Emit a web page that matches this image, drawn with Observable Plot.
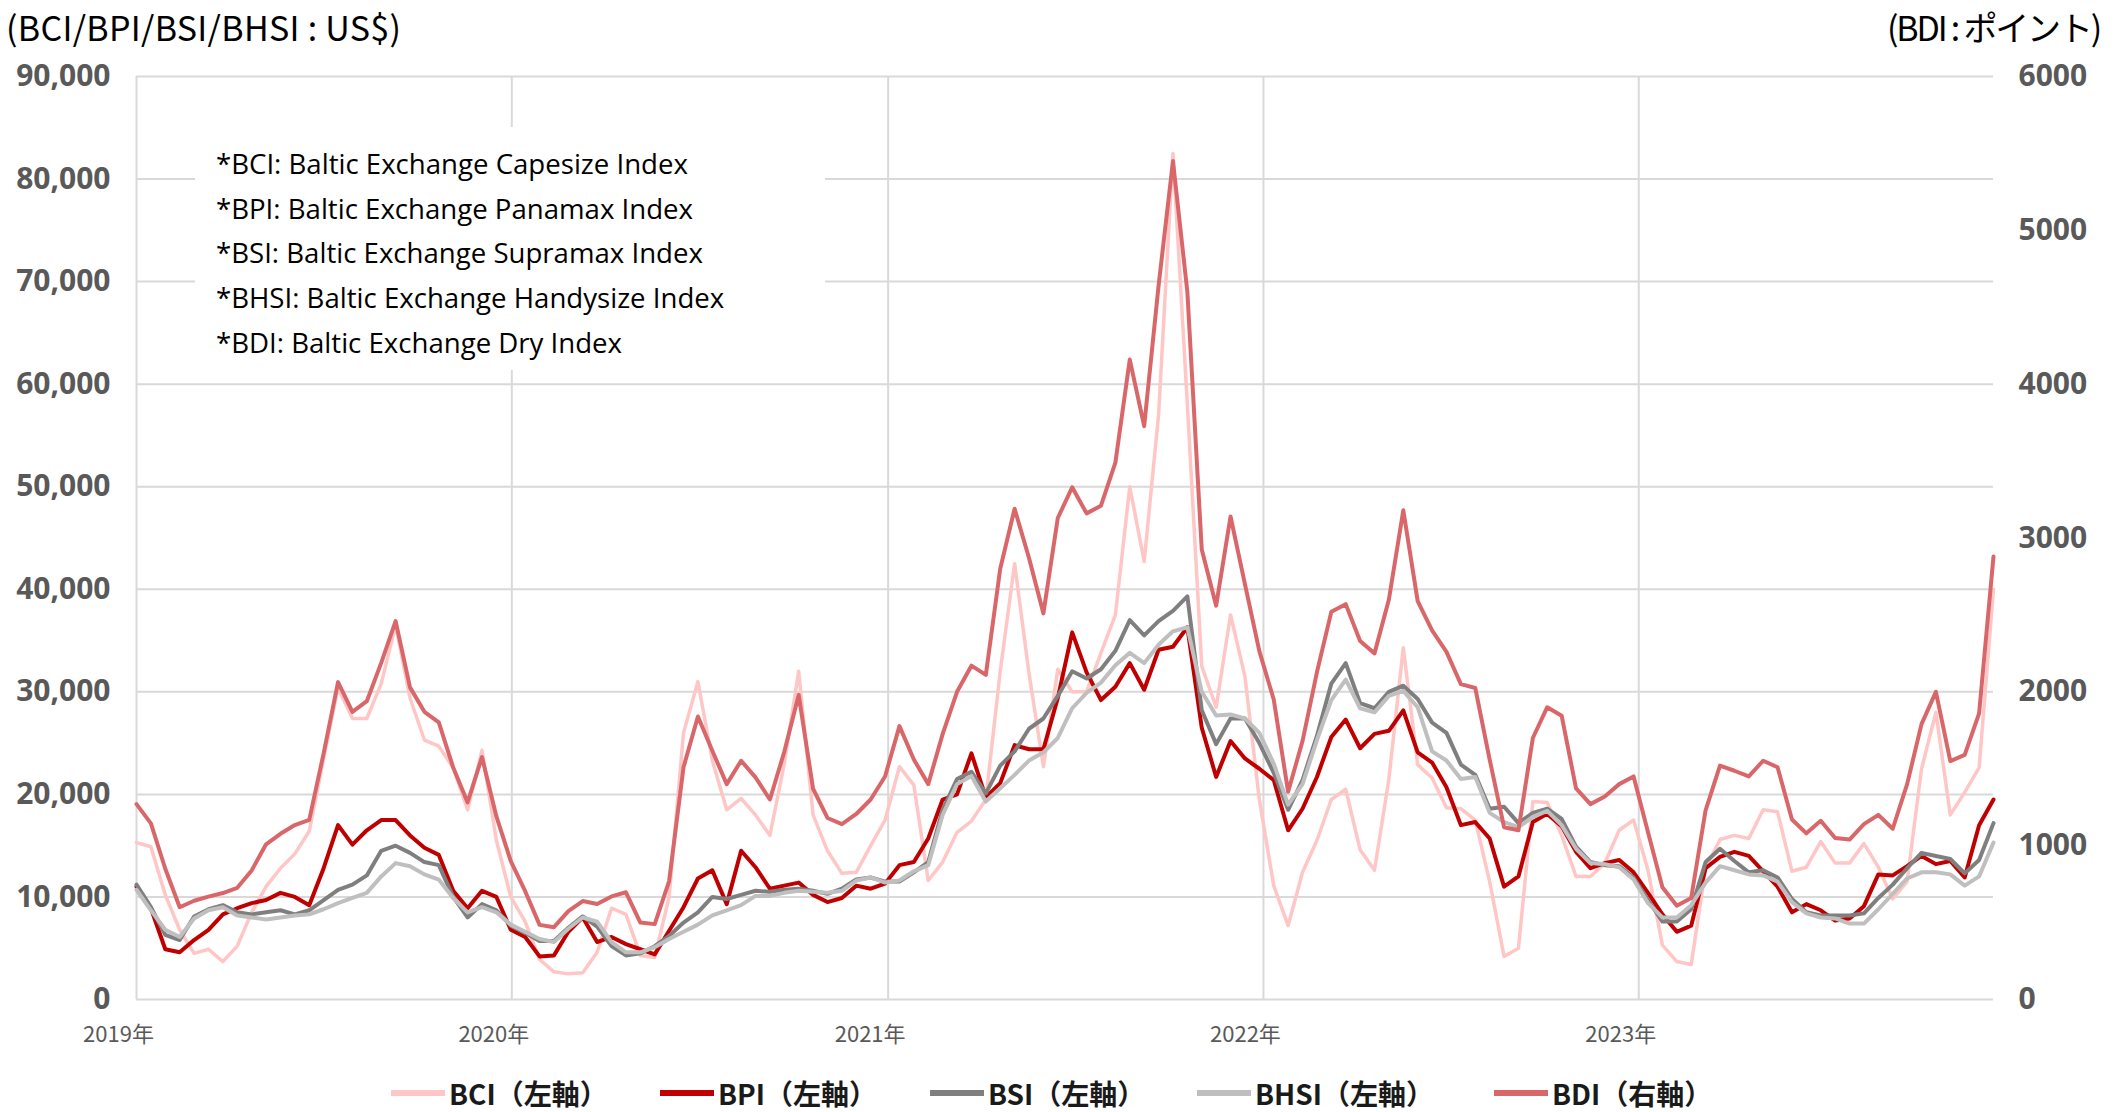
<!DOCTYPE html>
<html>
<head>
<meta charset="utf-8">
<script src="https://cdn.jsdelivr.net/npm/d3@7"></script>
<script src="https://cdn.jsdelivr.net/npm/@observablehq/plot@0.6"></script>
<style>
html, body { margin: 0; padding: 0; background: #fff; }
#wrap { position: relative; width: 2114px; height: 1112px; background: #fff; }
#chart { position: absolute; left: 0; top: 0; }
.title { position: absolute; top: 6px; font-family: "Noto Sans CJK JP", sans-serif; font-size: 34px; color: #000; white-space: nowrap; line-height: 42px; }
#tl { letter-spacing: 0.3px; }
#tr { letter-spacing: -2.2px; }
#note { position: absolute; left: 195px; top: 127px; width: 630px; height: 243px; background: #fff; }
#note div { position: absolute; left: 21px; font-family: "Open Sans", sans-serif; font-size: 27.6px; color: #000; white-space: nowrap; line-height: 34px; }
#legend { position: absolute; left: 0; top: 1074px; width: 2114px; height: 38px; }
#legend .item { position: absolute; top: 0; height: 38px; display: flex; align-items: center; gap: 4px; }
#legend .sw { display: inline-block; width: 54px; height: 6px; }
#legend .lt { font-family: "Noto Sans CJK JP", sans-serif; font-weight: 700; font-size: 28px; color: #1a1a1a; line-height: 38px; white-space: nowrap; padding-right: 2px; }
</style>
</head>
<body>
<div id="wrap">
  <div id="chart"></div>
  <div class="title" id="tl"></div>
  <div class="title" id="tr"></div>
  <div id="note"></div>
  <div id="legend"></div>
</div>
<script>
// ---- data (biweekly readings, first reading 2019-01-01, 14 days apart) ----
const startDate = new Date(Date.UTC(2019, 0, 1));
const stepDays = 14;

// BCI / BPI / BSI / BHSI : thousand US$ per day (left axis)
const bci = [
  15.3, 14.9, 10.2, 6.8, 4.5, 4.9, 3.7, 5.2, 8.5, 11.0, 12.8, 14.2, 16.4, 23.5, 30.4, 27.4, 27.4, 30.8, 36.5, 29.4, 25.3, 24.7, 22.6, 18.5, 24.3, 15.5,
  10.0,
  7.6, 3.9, 2.7, 2.5, 2.6, 4.6, 8.9, 8.3, 4.3, 4.1, 10.0, 26.0, 31.0, 23.3, 18.5, 19.6, 18.0, 16.0, 23.0, 32.0, 18.0, 14.5, 12.3, 12.4, 15.0,
  17.5,
  22.7, 20.9, 11.6, 13.4, 16.3, 17.4, 19.5, 32.0, 42.5, 31.8, 22.7, 32.2, 30.0, 30.0, 33.8, 37.5, 50.0, 42.7, 57.0, 82.5, 58.0, 32.5, 28.5, 37.5, 31.5,
  19.5,
  11.1, 7.2, 12.4, 15.5, 19.5, 20.5, 14.6, 12.6, 21.5, 34.3, 22.9, 21.6, 18.7, 18.6, 17.5, 11.5, 4.2, 5.0, 19.3, 19.2, 16.0, 12.0, 12.0, 13.3, 16.5,
  17.5,
  12.6, 5.3, 3.7, 3.4, 12.8, 15.6, 16.0, 15.7, 18.5, 18.3, 12.5, 12.9, 15.4, 13.3, 13.3, 15.2, 12.9, 9.8, 11.5, 22.5, 28.0, 18.0, 20.2, 22.6, 40.0
];
const bpi = [
  11.0, 8.9, 4.9, 4.6, 5.8, 6.8, 8.3, 8.9, 9.4, 9.7, 10.4, 10.0, 9.2, 12.8, 17.0, 15.1, 16.5, 17.5, 17.5, 16.0, 14.8, 14.1, 10.6, 8.9, 10.6, 10.0,
  6.8,
  6.1, 4.2, 4.3, 6.6, 8.0, 5.6, 6.1, 5.4, 4.9, 4.4, 6.7, 9.0, 11.8, 12.6, 9.3, 14.5, 12.9, 10.8, 11.1, 11.4, 10.2, 9.5, 9.9, 11.1, 10.8,
  11.3,
  13.1, 13.4, 15.7, 19.5, 20.0, 24.0, 19.7, 21.1, 24.8, 24.4, 24.4, 29.4, 35.8, 31.9, 29.2, 30.5, 32.8, 30.2, 34.1, 34.4, 36.3, 26.5, 21.7, 25.2, 23.5,
  22.5,
  21.4, 16.5, 18.6, 21.7, 25.6, 27.3, 24.5, 25.9, 26.2, 28.2, 24.1, 23.1, 20.7, 17.0, 17.3, 15.7, 11.0, 12.0, 17.3, 18.1, 16.9, 14.4, 12.8, 13.3, 13.6,
  12.4,
  10.4, 8.3, 6.6, 7.2, 12.8, 13.9, 14.4, 14.0, 12.5, 11.0, 8.5, 9.3, 8.7, 7.7, 7.9, 9.1, 12.2, 12.1, 13.0, 14.0, 13.2, 13.5, 11.9, 17.0, 19.5
];
const bsi = [
  11.2, 9.0, 6.3, 5.8, 8.1, 8.8, 9.2, 8.5, 8.3, 8.5, 8.7, 8.3, 8.7, 9.7, 10.7, 11.2, 12.1, 14.5, 15.0, 14.3, 13.4, 13.1, 10.0, 8.0, 9.3, 8.7,
  7.2,
  6.5, 5.7, 5.7, 7.0, 8.1, 7.1, 5.2, 4.3, 4.5, 5.2, 6.2, 7.5, 8.5, 10.0, 9.8, 10.2, 10.6, 10.5, 10.7, 10.8, 10.6, 10.3, 10.8, 11.7, 11.9,
  11.5,
  11.5, 12.4, 13.4, 18.5, 21.5, 22.2, 20.1, 22.8, 24.2, 26.4, 27.4, 29.6, 32.0, 31.3, 32.2, 34.0, 37.0, 35.5, 36.9, 37.9, 39.3, 28.2, 24.9, 27.4, 27.4,
  25.0,
  22.1, 18.5, 21.4, 25.7, 30.8, 32.8, 28.9, 28.4, 30.0, 30.6, 29.3, 27.0, 26.0, 22.9, 21.9, 18.6, 18.8, 17.2, 18.2, 18.6, 17.6, 14.9, 13.4, 13.1, 13.0,
  11.9,
  9.7, 7.6, 7.6, 8.8, 13.4, 14.7, 13.5, 12.4, 12.6, 11.9, 9.8, 8.5, 8.2, 8.2, 8.2, 8.4, 9.9, 11.2, 12.8, 14.3, 14.0, 13.7, 12.3, 13.6, 17.2
];
const bhsi = [
  10.7, 8.7, 6.8, 6.1, 7.9, 8.7, 9.0, 8.2, 8.0, 7.8, 8.0, 8.2, 8.3, 8.8, 9.4, 9.9, 10.4, 12.0, 13.3, 13.0, 12.2, 11.7, 9.9, 8.5, 9.0, 8.5,
  7.3,
  6.6, 5.9, 5.6, 6.9, 8.0, 7.6, 5.6, 4.6, 4.6, 5.1, 5.9, 6.6, 7.3, 8.2, 8.7, 9.2, 10.1, 10.1, 10.4, 10.6, 10.5, 10.4, 10.6, 11.6, 11.9,
  11.4,
  11.6, 12.5, 13.1, 18.0, 21.0, 21.8, 19.3, 20.6, 21.9, 23.3, 24.1, 25.5, 28.4, 29.9, 30.9, 32.6, 33.8, 32.8, 34.6, 35.9, 36.3, 30.0, 27.7, 27.8, 27.4,
  26.0,
  23.0, 19.0, 21.0, 25.3, 29.2, 31.2, 28.4, 28.0, 29.6, 30.1, 28.5, 24.2, 23.3, 21.5, 21.7, 18.2, 17.3, 16.8, 17.8, 18.4, 17.0, 14.7, 13.3, 13.2, 12.9,
  11.7,
  9.4, 8.0, 8.0, 9.2, 11.4, 13.0, 12.6, 12.2, 12.1, 11.5, 9.5, 8.4, 8.0, 7.9, 7.4, 7.4, 8.8, 10.3, 11.8, 12.4, 12.4, 12.2, 11.1, 12.0, 15.3
];
// BDI : points (right axis)
const bdi = [
  1270, 1145, 850, 600, 642, 669, 692, 726, 839, 1009, 1077, 1134, 1168, 1600, 2063, 1870, 1939, 2188, 2460, 2029, 1870, 1802, 1508, 1281, 1576, 1190,
  900,
  704, 485, 470, 575, 640, 621, 670, 697, 500, 490, 770, 1510, 1840, 1617, 1400, 1552, 1444, 1300, 1610, 1980, 1370, 1180, 1140, 1206, 1300,
  1450,
  1777, 1560, 1400, 1725, 2000, 2170, 2110, 2800, 3190, 2870, 2510, 3130, 3330, 3160, 3210, 3490, 4160, 3727, 4640, 5450, 4600, 2925, 2560, 3140, 2700,
  2265,
  1950, 1350, 1680, 2127, 2520, 2570, 2330, 2250, 2600, 3180, 2590, 2400, 2260, 2050, 2025, 1560, 1120, 1100, 1700, 1900, 1845, 1373, 1270, 1320, 1400,
  1450,
  1087, 730, 610, 660, 1230, 1520, 1487, 1450, 1552, 1510, 1170, 1080, 1162, 1050, 1040, 1140, 1200, 1110, 1400, 1790, 2000, 1550, 1590, 1860, 2880
];

const seriesNames = ["BCI", "BPI", "BSI", "BHSI", "BDI"];
const seriesColors = ["#ffc6c6", "#c00000", "#7f7f7f", "#bfbfbf", "#d9676a"];
const seriesWidths = [3.5, 4, 4, 4, 4];
const legendLabels = ["BCI（左軸）", "BPI（左軸）", "BSI（左軸）", "BHSI（左軸）", "BDI（右軸）"];
const legendX = [391, 660, 930, 1197, 1494];
const leftTicks = [0, 10000, 20000, 30000, 40000, 50000, 60000, 70000, 80000, 90000];
const rightTicks = [0, 1000, 2000, 3000, 4000, 5000, 6000];
const yearTicks = [2019, 2020, 2021, 2022, 2023];
const leftTitle = "(BCI/BPI/BSI/BHSI : US$)";
const rightTitle = "(BDI : ポイント)";
const noteLines = [
  "*BCI: Baltic Exchange Capesize Index",
  "*BPI: Baltic Exchange Panamax Index",
  "*BSI: Baltic Exchange Supramax Index",
  "*BHSI: Baltic Exchange Handysize Index",
  "*BDI: Baltic Exchange Dry Index"
];

// ---- build ----
const ratio = 90000 / 6000; // right-axis points -> left-axis dollars
const dates = bci.map((_, i) => d3.utcDay.offset(startDate, stepDays * i));
const valuesBy = { BCI: bci, BPI: bpi, BSI: bsi, BHSI: bhsi, BDI: bdi };
const toLeft = { BCI: v => v * 1000, BPI: v => v * 1000, BSI: v => v * 1000, BHSI: v => v * 1000, BDI: v => v * ratio };
const yearDates = yearTicks.map(y => new Date(Date.UTC(y, 0, 1)));

const lineMarks = seriesNames.map((name, k) =>
  Plot.line(valuesBy[name].map((v, i) => ({ date: dates[i], value: toLeft[name](v) })), {
    x: "date", y: "value", stroke: seriesColors[k], strokeWidth: seriesWidths[k],
    strokeLinejoin: "round", strokeLinecap: "round"
  })
);

const chart = Plot.plot({
  width: 2114,
  height: 1112,
  marginLeft: 136,
  marginRight: 121,
  marginTop: 76,
  marginBottom: 113,
  style: { background: "#fff", color: "#595959", fontFamily: "'Open Sans', sans-serif" },
  x: { type: "utc", domain: [startDate, dates[dates.length - 1]] },
  y: { domain: [0, 90000] },
  marks: [
    Plot.ruleY(leftTicks, { stroke: "#d9d9d9", strokeWidth: 2 }),
    Plot.ruleX(yearDates, { stroke: "#d9d9d9", strokeWidth: 2 }),
    ...lineMarks,
    Plot.axisY({ anchor: "left", ticks: leftTicks, tickFormat: d3.format(","), tickSize: 0, tickPadding: 26,
      fontSize: 30, fontWeight: "bold", fontFamily: "'Open Sans', sans-serif", label: null }),
    Plot.axisY({ anchor: "right", ticks: rightTicks.map(d => d * ratio), tickFormat: d => String(Math.round(d / ratio)),
      tickSize: 0, tickPadding: 25, fontSize: 30, fontWeight: "bold", fontFamily: "'Open Sans', sans-serif", label: null }),
    Plot.axisX({ ticks: yearDates, tickFormat: d => d.getUTCFullYear() + "年", tickSize: 0, tickPadding: 27, dx: -18,
      fontSize: 22, fontFamily: "'Noto Sans CJK JP', sans-serif", label: null })
  ]
});
document.getElementById("chart").appendChild(chart);

// titles
const tl = document.getElementById("tl");
tl.textContent = leftTitle; tl.style.left = "6px";
const tr = document.getElementById("tr");
tr.textContent = rightTitle; tr.style.right = "14px";

// annotation box
const note = document.getElementById("note");
noteLines.forEach((t, i) => {
  const d = document.createElement("div");
  d.textContent = t;
  d.style.top = (19 + i * 44.7) + "px";
  note.appendChild(d);
});

// legend
const legend = document.getElementById("legend");
seriesNames.forEach((name, k) => {
  const it = document.createElement("div"); it.className = "item"; it.style.left = legendX[k] + "px";
  const sw = document.createElement("span"); sw.className = "sw"; sw.style.background = seriesColors[k];
  const lt = document.createElement("span"); lt.className = "lt"; lt.textContent = legendLabels[k];
  it.appendChild(sw); it.appendChild(lt); legend.appendChild(it);
});
</script>
</body>
</html>
